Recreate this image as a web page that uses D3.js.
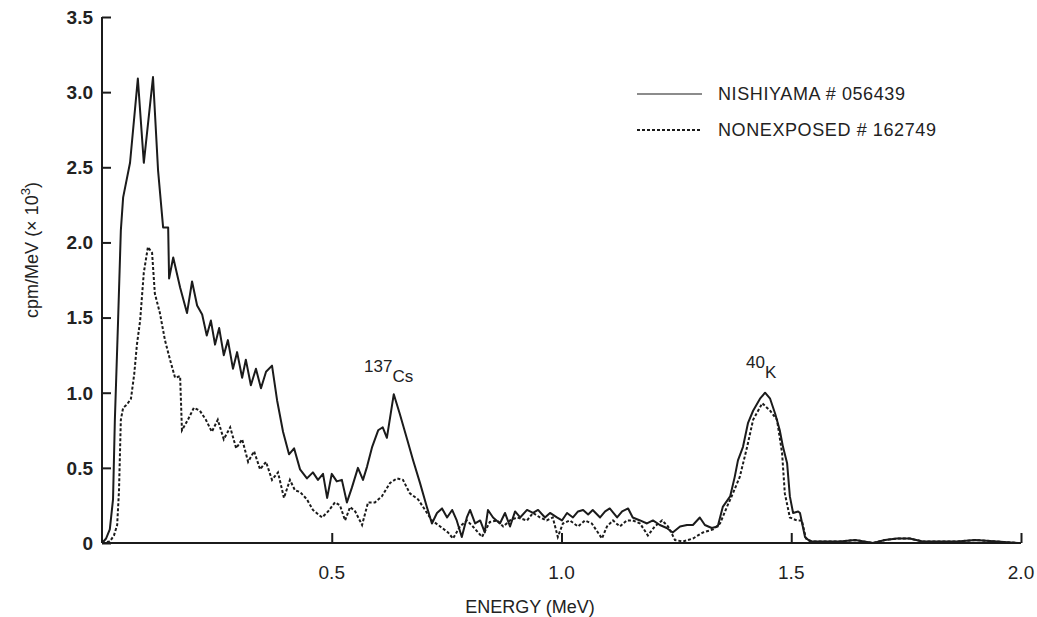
<!DOCTYPE html>
<html>
<head>
<meta charset="utf-8">
<script src="https://cdn.jsdelivr.net/npm/d3@7/dist/d3.min.js"></script>
<style>
  html, body { margin: 0; padding: 0; background: #fff; }
  svg { display: block; font-family: "Liberation Sans", Arial, Helvetica, sans-serif; }
</style>
</head>
<body>
<svg id="chart" width="1037" height="617"></svg>
<script>
// energy (MeV) / counts (cpm/MeV x 10^3)
const nishiyamaE = [0, 0.009, 0.017, 0.024, 0.028, 0.035, 0.041, 0.046, 0.061, 0.078, 0.091, 0.111, 0.122, 0.133, 0.144, 0.146, 0.155, 0.170, 0.185, 0.196, 0.207, 0.218, 0.228, 0.237, 0.246, 0.255, 0.265, 0.274, 0.285, 0.294, 0.305, 0.313, 0.324, 0.335, 0.346, 0.357, 0.370, 0.381, 0.394, 0.407, 0.418, 0.431, 0.446, 0.459, 0.470, 0.481, 0.490, 0.500, 0.511, 0.522, 0.533, 0.544, 0.557, 0.568, 0.577, 0.588, 0.601, 0.611, 0.620, 0.635, 0.648, 0.664, 0.677, 0.692, 0.707, 0.718, 0.729, 0.740, 0.751, 0.762, 0.772, 0.783, 0.794, 0.801, 0.812, 0.823, 0.833, 0.840, 0.851, 0.866, 0.877, 0.888, 0.899, 0.910, 0.925, 0.938, 0.949, 0.964, 0.975, 0.990, 1.001, 1.012, 1.025, 1.036, 1.047, 1.058, 1.068, 1.084, 1.095, 1.105, 1.121, 1.132, 1.145, 1.155, 1.171, 1.186, 1.199, 1.214, 1.229, 1.242, 1.258, 1.273, 1.286, 1.301, 1.312, 1.327, 1.340, 1.351, 1.367, 1.377, 1.384, 1.395, 1.406, 1.417, 1.432, 1.443, 1.454, 1.465, 1.475, 1.482, 1.491, 1.497, 1.504, 1.515, 1.519, 1.530, 1.541, 1.573, 1.606, 1.639, 1.678, 1.704, 1.730, 1.758, 1.786, 1.824, 1.861, 1.900, 1.948, 1.993];
const nishiyamaV = [0, 0.03, 0.09, 0.29, 0.82, 1.48, 2.08, 2.30, 2.53, 3.09, 2.53, 3.10, 2.48, 2.10, 2.10, 1.76, 1.90, 1.70, 1.53, 1.74, 1.58, 1.52, 1.38, 1.48, 1.32, 1.43, 1.25, 1.35, 1.16, 1.27, 1.10, 1.22, 1.05, 1.16, 1.03, 1.14, 1.18, 0.95, 0.74, 0.59, 0.63, 0.49, 0.43, 0.47, 0.42, 0.46, 0.30, 0.46, 0.41, 0.42, 0.27, 0.37, 0.50, 0.42, 0.51, 0.64, 0.75, 0.77, 0.70, 0.99, 0.86, 0.69, 0.55, 0.40, 0.24, 0.13, 0.20, 0.23, 0.17, 0.22, 0.15, 0.04, 0.17, 0.22, 0.13, 0.15, 0.07, 0.22, 0.17, 0.13, 0.20, 0.11, 0.21, 0.17, 0.22, 0.20, 0.22, 0.17, 0.20, 0.17, 0.15, 0.20, 0.17, 0.21, 0.22, 0.19, 0.22, 0.17, 0.21, 0.23, 0.17, 0.21, 0.23, 0.17, 0.15, 0.13, 0.15, 0.12, 0.10, 0.07, 0.11, 0.12, 0.12, 0.17, 0.12, 0.10, 0.11, 0.24, 0.31, 0.44, 0.55, 0.64, 0.80, 0.88, 0.96, 1.00, 0.96, 0.86, 0.75, 0.64, 0.53, 0.31, 0.20, 0.21, 0.20, 0.04, 0.01, 0.01, 0.01, 0.02, 0.00, 0.02, 0.03, 0.03, 0.01, 0.01, 0.01, 0.02, 0.01, 0];

const nonexposedE = [0, 0.017, 0.026, 0.033, 0.037, 0.041, 0.046, 0.054, 0.063, 0.070, 0.076, 0.083, 0.091, 0.100, 0.109, 0.115, 0.126, 0.137, 0.148, 0.159, 0.170, 0.174, 0.187, 0.200, 0.213, 0.226, 0.239, 0.252, 0.265, 0.279, 0.292, 0.305, 0.318, 0.331, 0.344, 0.357, 0.370, 0.383, 0.396, 0.409, 0.420, 0.431, 0.446, 0.459, 0.479, 0.492, 0.507, 0.518, 0.529, 0.540, 0.551, 0.566, 0.579, 0.594, 0.609, 0.627, 0.642, 0.655, 0.670, 0.688, 0.703, 0.718, 0.736, 0.753, 0.764, 0.779, 0.794, 0.807, 0.827, 0.844, 0.860, 0.873, 0.888, 0.903, 0.925, 0.938, 0.953, 0.968, 0.981, 0.992, 1.003, 1.018, 1.036, 1.051, 1.066, 1.088, 1.099, 1.112, 1.127, 1.142, 1.155, 1.171, 1.188, 1.203, 1.219, 1.232, 1.247, 1.264, 1.286, 1.308, 1.330, 1.345, 1.360, 1.373, 1.388, 1.404, 1.417, 1.437, 1.454, 1.469, 1.480, 1.486, 1.497, 1.512, 1.523, 1.532, 1.545, 1.573, 1.606, 1.639, 1.678, 1.704, 1.730, 1.758, 1.786, 1.824, 1.861, 1.900, 1.948, 1.993];
const nonexposedV = [0, 0.01, 0.05, 0.12, 0.35, 0.82, 0.90, 0.92, 0.96, 1.12, 1.32, 1.48, 1.80, 1.97, 1.93, 1.66, 1.53, 1.35, 1.22, 1.10, 1.11, 0.75, 0.82, 0.90, 0.88, 0.82, 0.74, 0.82, 0.69, 0.77, 0.63, 0.69, 0.54, 0.61, 0.49, 0.54, 0.42, 0.47, 0.30, 0.42, 0.35, 0.34, 0.29, 0.22, 0.17, 0.21, 0.27, 0.25, 0.15, 0.24, 0.21, 0.12, 0.27, 0.27, 0.31, 0.40, 0.43, 0.42, 0.33, 0.29, 0.22, 0.15, 0.11, 0.07, 0.03, 0.11, 0.15, 0.11, 0.04, 0.14, 0.15, 0.11, 0.15, 0.17, 0.15, 0.20, 0.17, 0.15, 0.17, 0.04, 0.13, 0.15, 0.11, 0.15, 0.13, 0.03, 0.11, 0.15, 0.11, 0.15, 0.15, 0.13, 0.05, 0.11, 0.15, 0.11, 0.02, 0.01, 0.03, 0.07, 0.09, 0.13, 0.24, 0.33, 0.44, 0.64, 0.82, 0.93, 0.88, 0.82, 0.60, 0.33, 0.17, 0.15, 0.15, 0.03, 0.01, 0.01, 0.01, 0.02, 0.00, 0.02, 0.03, 0.03, 0.01, 0.01, 0.01, 0.02, 0.01, 0];

const xTicks = [0.5, 1.0, 1.5, 2.0];
const yTicks = [0, 0.5, 1.0, 1.5, 2.0, 2.5, 3.0, 3.5];
const seriesNames = ["NISHIYAMA # 056439", "NONEXPOSED # 162749"];

const ink = "#1b1b1b";
const svg = d3.select("#chart");

const x = d3.scaleLinear().domain([0, 2]).range([102, 1021]);
const y = d3.scaleLinear().domain([0, 3.5]).range([543, 17]);

// axes: ticks point inward, like the original plot
const yAxis = svg.append("g")
    .attr("transform", `translate(${x(0)},0)`)
    .call(d3.axisRight(y).tickValues(yTicks).tickSize(9).tickFormat(""));
yAxis.select(".domain").attr("d", `M0,${y(3.5)}V${y(0)}`);

const xAxis = svg.append("g")
    .attr("transform", `translate(0,${y(0)})`)
    .call(d3.axisTop(x).tickValues(xTicks).tickSize(10).tickFormat(""));
xAxis.select(".domain").attr("d", `M${x(0)},0H${x(2)}`);

svg.selectAll(".domain, .tick line")
    .attr("stroke", ink)
    .attr("stroke-width", 2);

svg.append("g").selectAll("text")
    .data(yTicks)
    .join("text")
    .attr("x", 93)
    .attr("y", d => y(d))
    .attr("dy", "0.36em")
    .attr("text-anchor", "end")
    .attr("font-size", 19)
    .attr("font-weight", "bold")
    .attr("fill", "#222")
    .text(d => d === 0 ? "0" : d.toFixed(1));

svg.append("g").selectAll("text")
    .data(xTicks)
    .join("text")
    .attr("x", d => x(d))
    .attr("y", 579)
    .attr("text-anchor", "middle")
    .attr("font-size", 19)
    .attr("fill", "#222")
    .text(d => d.toFixed(1));

svg.append("text")
    .attr("x", 530)
    .attr("y", 613)
    .attr("text-anchor", "middle")
    .attr("font-size", 18)
    .attr("fill", "#222")
    .text("ENERGY (MeV)");

const yl = svg.append("text")
    .attr("transform", "translate(38,250) rotate(-90)")
    .attr("text-anchor", "middle")
    .attr("font-size", 18)
    .attr("fill", "#222");
yl.append("tspan").text("cpm/MeV (× 10");
yl.append("tspan").attr("dy", -8).attr("font-size", 13).text("3");
yl.append("tspan").attr("dy", 8).text(")");

// spectra
const line = d3.line().x(d => x(d[0])).y(d => y(d[1]));
const nishiyama = d3.zip(nishiyamaE, nishiyamaV);
const nonexposed = d3.zip(nonexposedE, nonexposedV);

svg.append("path")
    .datum(nonexposed)
    .attr("fill", "none")
    .attr("stroke", ink)
    .attr("stroke-width", 2)
    .attr("stroke-dasharray", "3,2")
    .attr("d", line);

svg.append("path")
    .datum(nishiyama)
    .attr("fill", "none")
    .attr("stroke", ink)
    .attr("stroke-width", 2)
    .attr("stroke-linejoin", "round")
    .attr("d", line);

// peak labels
const cs = svg.append("text").attr("x", 364).attr("y", 372).attr("font-size", 17).attr("fill", "#222");
cs.append("tspan").text("137");
cs.append("tspan").attr("dy", 10).text("Cs");

const k = svg.append("text").attr("x", 746).attr("y", 368).attr("font-size", 17).attr("fill", "#222");
k.append("tspan").text("40");
k.append("tspan").attr("dy", 10).text("K");

// legend
const legend = svg.append("g");
seriesNames.forEach((name, i) => {
    const ly = 94 + i * 36;
    legend.append("line")
        .attr("x1", 637).attr("x2", 702)
        .attr("y1", ly).attr("y2", ly)
        .attr("stroke", ink)
        .attr("stroke-width", i === 0 ? 1.2 : 1.8)
        .attr("stroke-dasharray", i === 0 ? null : "3,2");
    legend.append("text")
        .attr("x", 718)
        .attr("y", ly)
        .attr("dy", "0.36em")
        .attr("font-size", 18)
        .attr("letter-spacing", 0.6)
        .attr("fill", "#222")
        .text(name);
});
</script>
</body>
</html>
